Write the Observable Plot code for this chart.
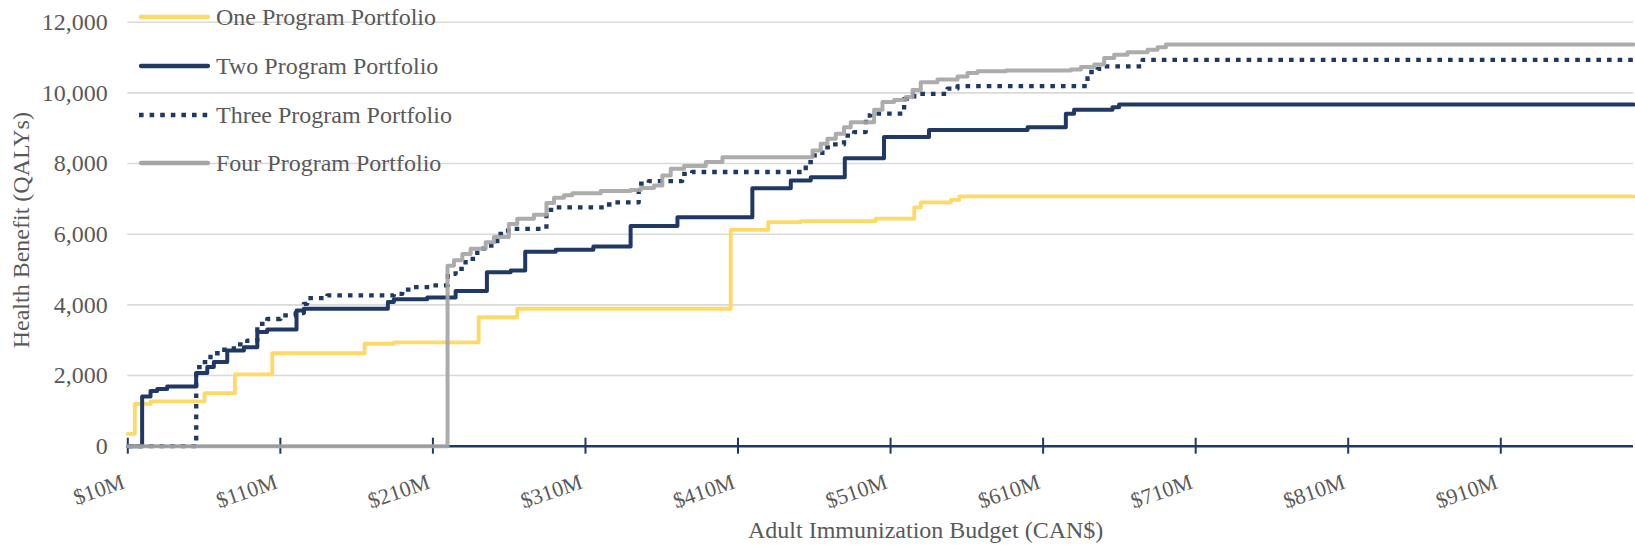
<!DOCTYPE html>
<html><head><meta charset="utf-8">
<script src="https://cdn.jsdelivr.net/npm/d3@7"></script>
<script src="https://cdn.jsdelivr.net/npm/@observablehq/plot@0.6"></script>
<style>
html,body{margin:0;padding:0;background:#fff;}
#wrap{position:relative;width:1635px;height:545px;font-family:"Liberation Serif","Times New Roman",serif;}
#legend{position:absolute;left:0;top:0;width:0;height:0;}
.item{position:absolute;left:139px;height:0;white-space:nowrap;}
.item svg{position:absolute;left:0;top:-6px;overflow:visible;}
.item span{position:absolute;left:77px;top:-15px;font-size:24px;line-height:30px;color:#595959;}
</style></head><body><div id="wrap"></div>
<script>
const xTicks = [10, 110, 210, 310, 410, 510, 610, 710, 810, 910];
const yTicks = [0, 2000, 4000, 6000, 8000, 10000, 12000];
const seriesNames = ["One Program Portfolio", "Two Program Portfolio", "Three Program Portfolio", "Four Program Portfolio"];
const seriesColors = ["#FFD966", "#1F3864", "#1F3864", "#A5A5A5"];
const xTitle = "Adult Immunization Budget (CAN$)";
const yTitle = "Health Benefit (QALYs)";

const oneX = [10, 14.6, 25, 60.3, 80.2, 104.7, 165.2, 184.4, 240, 265.3, 405.2, 429.8, 451, 500.3, 525.5, 529.8, 549.5, 555, 997];
const oneY = [350, 1200, 1270, 1500, 2030, 2630, 2900, 2940, 3650, 3890, 6120, 6340, 6370, 6440, 6760, 6900, 6970, 7070, 7070];

const twoX = [10, 19.4, 24.9, 29.3, 35.8, 54.8, 62.1, 66.4, 75.2, 86.1, 94.9, 101.4, 120.6, 125.4, 180.5, 184.4, 206.3, 224.9, 245.4, 261, 270.5, 290.5, 315.2, 339.6, 370.3, 419.4, 444.6, 457.7, 480, 505.7, 535.2, 599.8, 624.9, 630.3, 655.5, 659.8, 997];
const twoY = [0, 1410, 1560, 1620, 1690, 2070, 2240, 2380, 2710, 2800, 3230, 3300, 3840, 3890, 4080, 4160, 4210, 4390, 4920, 4970, 5500, 5560, 5650, 6230, 6480, 7300, 7520, 7610, 8150, 8750, 8950, 9030, 9410, 9520, 9590, 9670, 9670];

const threeX = [10, 54.85, 58.8, 64.2, 70.8, 79.5, 88.3, 94.9, 101.4, 110.1, 120, 125.4, 127.6, 140.8, 184.4, 189.9, 197.5, 208.5, 219.8, 224.9, 231.4, 239.1, 246.1, 252.2, 256.6, 261, 284.4, 289.4, 322, 327.5, 344.9, 351.5, 373.4, 379.9, 454.4, 459.8, 465.3, 471.9, 479.5, 486.1, 493.8, 497, 518.9, 525.5, 547.3, 553.9, 639.1, 645.7, 650, 675.2, 997];
const threeY = [0, 2240, 2380, 2630, 2730, 2880, 2990, 3460, 3600, 3700, 3770, 4030, 4190, 4270, 4310, 4430, 4500, 4550, 4880, 5020, 5300, 5590, 5680, 6010, 6100, 6150, 6690, 6760, 6840, 6900, 7430, 7500, 7710, 7760, 8040, 8230, 8460, 8540, 8790, 8890, 9360, 9410, 9830, 9970, 10120, 10190, 10590, 10680, 10750, 10935, 10935];

const fourX = [10, 219.6, 223.8, 229.3, 234.7, 244.6, 250, 259.8, 265.3, 276.2, 284.4, 289.4, 295.9, 301.4, 320, 339.6, 346.2, 354.9, 360.4, 365.9, 374.6, 388.9, 399.8, 458.8, 464.2, 468.6, 474.1, 479.5, 483.9, 499.2, 504.7, 512.3, 520, 524.4, 529.8, 540.7, 553.9, 560.4, 567, 585.6, 628.2, 634.8, 643.5, 650, 656.6, 665.3, 678.5, 685, 690.5, 997];
const fourY = [0, 5110, 5260, 5440, 5590, 5770, 5920, 6290, 6440, 6550, 6880, 7030, 7100, 7160, 7220, 7250, 7310, 7380, 7660, 7850, 7930, 8040, 8180, 8370, 8560, 8700, 8840, 9030, 9170, 9520, 9740, 9800, 9880, 10080, 10300, 10380, 10460, 10560, 10610, 10630, 10660, 10730, 10800, 10990, 11080, 11150, 11220, 11290, 11370, 11370];

const toRows = (xs, ys, name) => xs.map((x, i) => ({series: name, budget: x, qaly: ys[i]}));
const rows = [
  toRows(oneX, oneY, seriesNames[0]),
  toRows(twoX, twoY, seriesNames[1]),
  toRows(threeX, threeY, seriesNames[2]),
  toRows(fourX, fourY, seriesNames[3])
];

const axisColor = "#203864";
const textColor = "#595959";
const fontFamily = '"Liberation Serif","Times New Roman",serif';

const chart = Plot.plot({
  width: 1635,
  height: 545,
  marginLeft: 127.3,
  marginRight: 2,
  marginTop: 21.7,
  marginBottom: 99.3,
  style: {fontFamily, background: "#fff", overflow: "visible"},
  x: {domain: [10, 997]},
  y: {domain: [0, 12000]},
  marks: [
    Plot.gridY(yTicks, {stroke: "#D9D9D9", strokeOpacity: 1, strokeWidth: 1.6}),
    Plot.axisY({ticks: yTicks, tickFormat: d3.format(","), tickSize: 0, tickPadding: 20, fontSize: 24, color: textColor, label: null}),
    Plot.ruleY([0], {stroke: axisColor, strokeWidth: 2.6}),
    Plot.ruleX(xTicks, {y1: 0, y2: 0, insetTop: -8, insetBottom: -8, stroke: axisColor, strokeWidth: 2}),
    Plot.axisX({ticks: xTicks, tickFormat: d => `$${d}M`, tickRotate: -19, tickSize: 0, tickPadding: 35, dx: -4, fontSize: 22, color: textColor, label: null}),
    Plot.line(rows[0], {x: "budget", y: "qaly", curve: "step-after", stroke: seriesColors[0], strokeWidth: 3.8, strokeLinejoin: "round"}),
    Plot.line(rows[1], {x: "budget", y: "qaly", curve: "step-after", stroke: seriesColors[1], strokeWidth: 4, strokeLinejoin: "round"}),
    Plot.line(rows[2], {x: "budget", y: "qaly", curve: "step-after", stroke: seriesColors[2], strokeWidth: 4.3, strokeDasharray: "4.6,6", strokeLinecap: "butt"}),
    Plot.line(rows[3], {x: "budget", y: "qaly", curve: "step-after", stroke: seriesColors[3], strokeWidth: 4, strokeOpacity: 0.92, strokeLinejoin: "round"}),
    Plot.text([xTitle], {text: d => d, frameAnchor: "bottom", dx: 45, dy: 84, fontSize: 24, fill: textColor, textAnchor: "middle", lineAnchor: "middle"}),
    Plot.text([yTitle], {text: d => d, frameAnchor: "left", dx: -106, dy: -4, rotate: -90, fontSize: 24, fill: textColor, textAnchor: "middle", lineAnchor: "middle"})
  ]
});

const wrap = document.getElementById("wrap");
wrap.appendChild(chart);

const legend = document.createElement("div");
legend.id = "legend";
const rowY = [17.3, 66, 115, 163.3];
seriesNames.forEach((name, i) => {
  const item = document.createElement("div");
  item.className = "item";
  item.style.top = rowY[i] + "px";
  const dash = i === 2 ? 'stroke-dasharray="4.6,6"' : '';
  const cap = i === 2 ? 'butt' : 'round';
  item.innerHTML = `<svg width="71" height="12"><line x1="${i === 2 ? 0 : 2}" y1="6" x2="${i === 2 ? 71 : 69}" y2="6" stroke="${seriesColors[i]}" stroke-width="4.3" stroke-linecap="${cap}" ${dash}/></svg><span>${name}</span>`;
  legend.appendChild(item);
});
wrap.appendChild(legend);
</script>
</body></html>
